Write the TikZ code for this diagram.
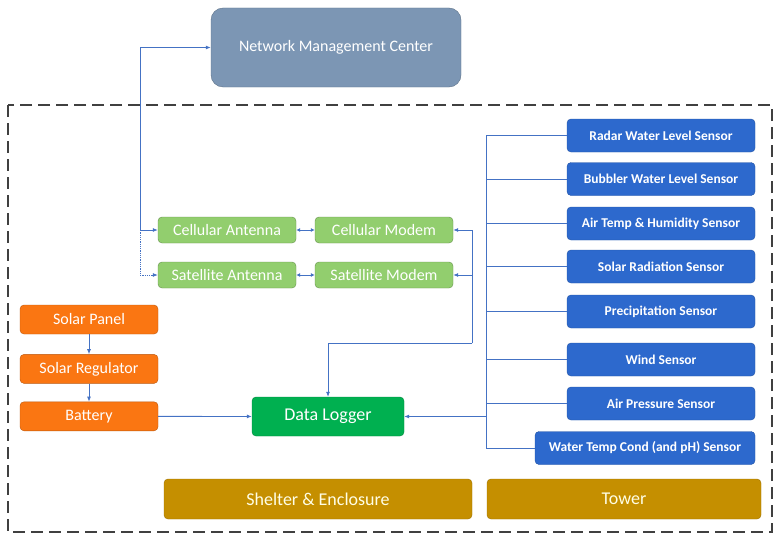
\documentclass[tikz,border=0pt]{standalone}
\usepackage{fontspec}
\setmainfont{Carlito}
\usetikzlibrary{arrows.meta, positioning}
\definecolor{linkblue}{RGB}{68, 114, 196}
\definecolor{nmcgray}{RGB}{124, 150, 180}
\definecolor{sensblue}{RGB}{45, 105, 205}
\definecolor{commgreen}{RGB}{146, 206, 110}
\definecolor{loggreen}{RGB}{0, 176, 80}
\definecolor{powerorange}{RGB}{250, 118, 18}
\definecolor{basegold}{RGB}{197, 143, 0}

\begin{document}
\begin{tikzpicture}[x=1pt, y=1pt,
    node distance=10pt,
    box/.style={rectangle, draw, rounded corners=4pt, inner sep=0pt, align=center, text=white},
    comm/.style={box, fill=commgreen, draw=commgreen!70!black, minimum width=138pt, minimum height=26pt, font=\fontsize{16}{18}\selectfont},
    power/.style={box, fill=powerorange, draw=powerorange!75!black, minimum width=138pt, minimum height=29pt, font=\fontsize{16}{18}\selectfont},
    sensor/.style={box, fill=sensblue, draw=sensblue!80!black, minimum width=188pt, minimum height=33pt, font=\fontsize{13.5}{16}\selectfont\bfseries},
    base/.style={box, fill=basegold, draw=basegold!80!black, minimum height=40pt, text=yellow!10, font=\fontsize{18}{21}\selectfont},
    arrow/.style={-{Latex[length=5pt, width=4pt]}, linkblue, line width=0.8pt},
    link/.style={linkblue, line width=0.8pt}
  ]
    \useasboundingbox (0,0) rectangle (776,-535);

    % station enclosure
    \draw[line width=1.8pt, black!75, dash pattern=on 12pt off 6pt] (8,-105) rectangle (772,-532);

    \node[box, fill=nmcgray, draw=nmcgray!75!black, rounded corners=12pt,
          minimum width=250pt, minimum height=79pt, font=\fontsize{16}{19}\selectfont] (nmc) at (336,-47.5) {Network Management Center};

    % telemetry
    \node[comm] (cant) at (227,-230) {Cellular Antenna};
    \node[comm] (cmod) at (384,-230) {Cellular Modem};
    \node[comm] (sant) at (227,-275) {Satellite Antenna};
    \node[comm] (smod) at (384,-275) {Satellite Modem};

    % power chain
    \node[power] (panel) at (89,-319.5) {Solar Panel};
    \node[power, below=20pt of panel] (reg) {Solar Regulator};
    \node[power, below=18pt of reg] (bat) {Battery};

    \node[box, fill=loggreen, draw=loggreen!75!black, minimum width=152pt, minimum height=39pt,
          font=\fontsize{18}{21}\selectfont] (logger) at (328,-416.5) {Data Logger};

    % sensors
    \node[sensor] (radar) at (661,-135.5) {Radar Water Level Sensor};
    \node[sensor] (bubbler) at (661,-179) {Bubbler Water Level Sensor};
    \node[sensor] (airtemp) at (661,-223.5) {Air Temp \& Humidity Sensor};
    \node[sensor] (solrad) at (661,-266.5) {Solar Radiation Sensor};
    \node[sensor] (precip) at (661,-311.5) {Precipitation Sensor};
    \node[sensor] (wind) at (661,-359.5) {Wind Sensor};
    \node[sensor] (press) at (661,-403.5) {Air Pressure Sensor};
    \node[sensor, minimum width=220pt] (water) at (645,-448) {Water Temp Cond (and pH) Sensor};

    \node[base, minimum width=308pt] (shelter) at (318,-499) {Shelter \& Enclosure};
    \node[base, minimum width=274pt] (tower) at (624,-499) {Tower};

    \coordinate (bustop) at (486,-135.5);
    \coordinate (busbot) at (486,-448);
    \coordinate (mtap) at (472,-343);
    \coordinate (ncorner) at (140,-47.5);

    % links to the management center
    \draw[link, densely dotted, {Latex[length=5pt, width=4pt]}-] (sant.west) -| (ncorner);
    \draw[link, {Latex[length=5pt, width=4pt]}-{Latex[length=5pt, width=4pt]}] (cant.west) -| (ncorner) -- (nmc.west);

    \draw[link, {Latex[length=4pt, width=4pt]}-{Latex[length=4pt, width=4pt]}] (cant) -- (cmod);
    \draw[link, {Latex[length=4pt, width=4pt]}-{Latex[length=4pt, width=4pt]}] (sant) -- (smod);

    \draw[arrow] (mtap) -| (logger.north);
    \draw[arrow] (mtap) |- (cmod.east);
    \draw[arrow] (mtap) |- (smod.east);

    \draw[arrow] (panel) -- (reg);
    \draw[arrow] (reg) -- (bat);
    \draw[arrow] (bat) -- (logger);

    % sensor bus
    \draw[link] (bustop) -- (busbot);
    \foreach \s in {radar, bubbler, airtemp, solrad, precip, wind, press, water}
      \draw[link] (\s.west) -- (\s.west -| bustop);
    \draw[arrow] (logger.east -| bustop) -- (logger.east);
  \end{tikzpicture}
\end{document}
